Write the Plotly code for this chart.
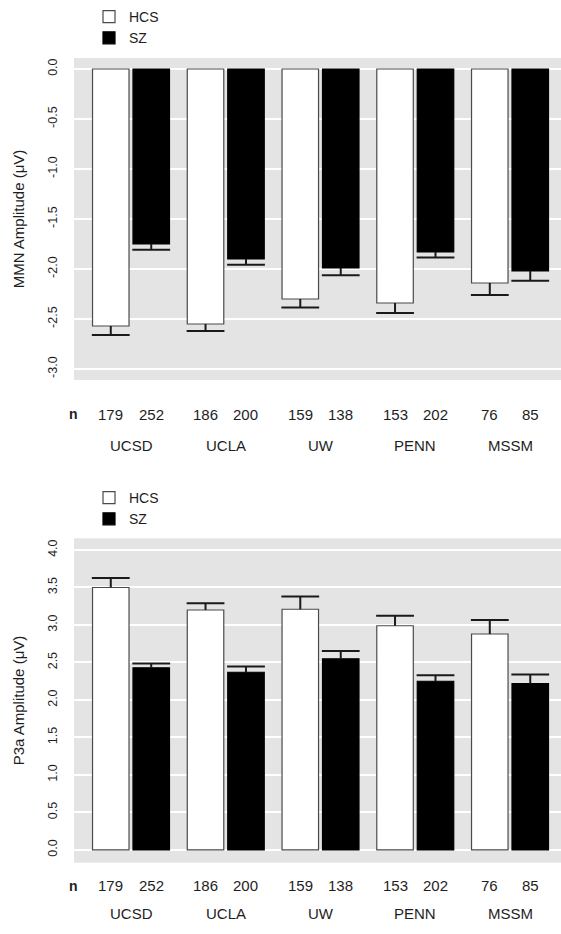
import plotly.graph_objects as go

# ---------------- data ----------------
sites = ["UCSD", "UCLA", "UW", "PENN", "MSSM"]
groups = ["HCS", "SZ"]

n_hcs = [179, 186, 159, 153, 76]
n_sz = [252, 200, 138, 202, 85]

mmn_hcs = [-2.57, -2.55, -2.30, -2.34, -2.14]
mmn_hcs_se = [0.09, 0.07, 0.085, 0.10, 0.12]
mmn_sz = [-1.75, -1.90, -1.99, -1.83, -2.02]
mmn_sz_se = [0.057, 0.057, 0.073, 0.055, 0.097]

p3a_hcs = [3.50, 3.20, 3.21, 2.99, 2.88]
p3a_hcs_se = [0.128, 0.089, 0.169, 0.133, 0.187]
p3a_sz = [2.43, 2.37, 2.55, 2.25, 2.22]
p3a_sz_se = [0.058, 0.075, 0.102, 0.08, 0.12]

mmn_ticks = [0.0, -0.5, -1.0, -1.5, -2.0, -2.5, -3.0]
mmn_tick_labels = ["0.0", "-0.5", "-1.0", "-1.5", "-2.0", "-2.5", "-3.0"]
p3a_ticks = [0.0, 0.5, 1.0, 1.5, 2.0, 2.5, 3.0, 3.5, 4.0]
p3a_tick_labels = ["0.0", "0.5", "1.0", "1.5", "2.0", "2.5", "3.0", "3.5", "4.0"]

# ---------------- styling ----------------
W, H = 561, 934
FONT = "Liberation Sans, Arial, Helvetica, sans-serif"
TXT = "#1e1e1e"
BG = "#E4E4E4"
ERR = "#1a1a1a"
BARGAP = 0.146
BARGROUPGAP = 0.098
half_slot = (1 - BARGAP) / 4.0

idx = list(range(len(sites)))


def py(p):
    return 1 - p / H


def px(p):
    return p / W


fig = go.Figure()


def add_panel(xa, ya, legend, hcs, hcs_se, sz, sz_se, downward):
    specs = [("HCS", hcs, hcs_se, "white", "#4a4a4a", -1),
             ("SZ", sz, sz_se, "black", "black", 1)]
    for name, vals, se, fill, edge, side in specs:
        zeros = [0] * len(vals)
        fig.add_trace(go.Bar(
            x=idx, y=vals, name=name, xaxis=xa, yaxis=ya, legend=legend,
            marker=dict(color=fill, line=dict(color=edge, width=1.2)),
            error_y=dict(type="data", symmetric=False,
                         array=zeros if downward else se,
                         arrayminus=se if downward else zeros,
                         width=0, thickness=2, color=ERR),
            offsetgroup=name, showlegend=True,
        ))
        ends = [v - s if downward else v + s for v, s in zip(vals, se)]
        fig.add_trace(go.Scatter(
            x=[i + side * half_slot for i in idx], y=ends, xaxis=xa, yaxis=ya,
            mode="markers", showlegend=False, hoverinfo="skip",
            marker=dict(symbol="line-ew", size=27, color=ERR,
                        line=dict(color=ERR, width=2)),
        ))


add_panel("x", "y", "legend", mmn_hcs, mmn_hcs_se, mmn_sz, mmn_sz_se, True)
add_panel("x2", "y2", "legend2", p3a_hcs, p3a_hcs_se, p3a_sz, p3a_sz_se, False)

# ---------------- annotations (n and site rows) ----------------
annotations = []
rows = [("x", 414, 445), ("x2", 896, 924)]
for xref, n_y, site_y in rows:
    annotations.append(dict(text="<b>n</b>", xref="paper", yref="paper",
                            x=px(67), y=py(n_y), showarrow=False,
                            font=dict(size=14, color=TXT, family=FONT)))
    for i in idx:
        annotations.append(dict(text=str(n_hcs[i]), xref=xref, yref="paper",
                                x=i - half_slot, y=py(n_y), showarrow=False,
                                font=dict(size=15, color=TXT, family=FONT)))
        annotations.append(dict(text=str(n_sz[i]), xref=xref, yref="paper",
                                x=i + half_slot, y=py(n_y), showarrow=False,
                                font=dict(size=15, color=TXT, family=FONT)))
        annotations.append(dict(text=sites[i], xref=xref, yref="paper",
                                x=i, y=py(site_y), showarrow=False,
                                font=dict(size=15, color=TXT, family=FONT)))

xcommon = dict(domain=[px(74), 1], range=[-0.6016, 4.538], showticklabels=False,
               showgrid=False, zeroline=False, showline=False, ticks="")
ycommon = dict(tickangle=-90, ticks="", gridcolor="white", gridwidth=2,
               zeroline=False, showline=False,
               tickfont=dict(size=12.5, color=TXT, family=FONT),
               ticklabelstandoff=14)

legend_common = dict(xanchor="left", yanchor="top", bgcolor="rgba(0,0,0,0)",
                     font=dict(size=14, color=TXT, family=FONT),
                     tracegroupgap=0, itemwidth=30)

fig.update_layout(
    width=W, height=H, margin=dict(l=0, r=0, t=0, b=0),
    paper_bgcolor="white", plot_bgcolor=BG,
    barmode="group", bargap=BARGAP, bargroupgap=BARGROUPGAP,
    font=dict(family=FONT, color=TXT),
    xaxis=dict(anchor="y", **xcommon),
    xaxis2=dict(anchor="y2", **xcommon),
    yaxis=dict(anchor="x", domain=[py(380), py(58)], range=[-3.11, 0.11],
               tickvals=mmn_ticks, ticktext=mmn_tick_labels,
               title=dict(text="MMN Amplitude (μV)", standoff=17,
                          font=dict(size=15, color=TXT, family=FONT)),
               **ycommon),
    yaxis2=dict(anchor="x2", domain=[py(862.7), py(538.3)], range=[-0.17, 4.156],
                tickvals=p3a_ticks, ticktext=p3a_tick_labels,
                title=dict(text="P3a Amplitude (μV)", standoff=17,
                           font=dict(size=15, color=TXT, family=FONT)),
                **ycommon),
    legend=dict(x=px(89), y=py(1), **legend_common),
    legend2=dict(x=px(89), y=py(482), **legend_common),
    annotations=annotations,
)

fig.write_html("out.html")
